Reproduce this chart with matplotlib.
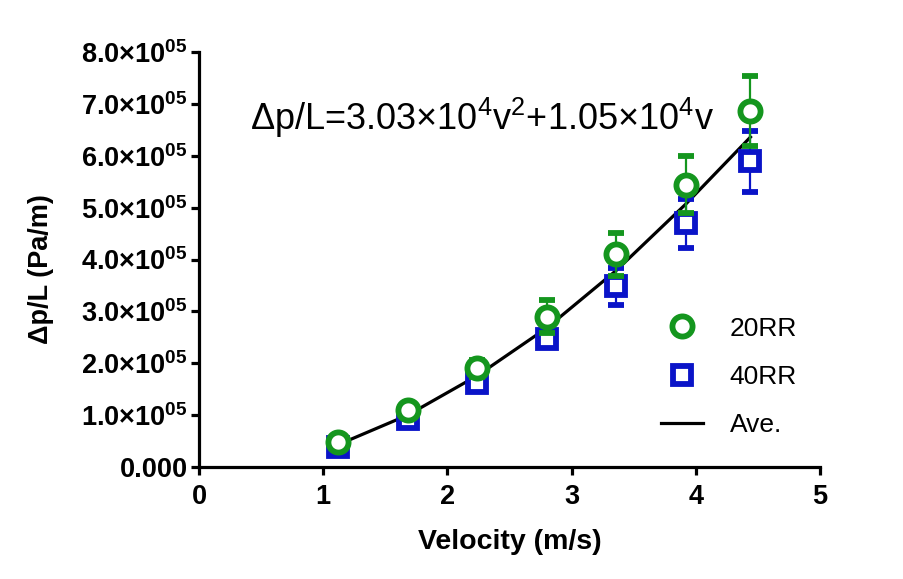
import matplotlib
matplotlib.use("Agg")
import matplotlib.pyplot as plt
from matplotlib.lines import Line2D
from matplotlib.ticker import FuncFormatter, MultipleLocator

plt.rcParams['font.family'] = ['Liberation Sans', 'DejaVu Sans']
plt.rcParams['mathtext.default'] = 'regular'

# Data (pressure drop in units of 1e5 Pa/m)
velocity = [1.12, 1.68, 2.24, 2.80, 3.36, 3.92, 4.44]
rr20 = [0.48, 1.09, 1.90, 2.90, 4.10, 5.44, 6.86]
rr20_err = [0.04, 0.06, 0.17, 0.31, 0.42, 0.55, 0.67]
rr40 = [0.38, 0.92, 1.62, 2.46, 3.48, 4.70, 5.89]
rr40_err = [0.03, 0.05, 0.08, 0.13, 0.35, 0.47, 0.59]
ave = [0.43, 1.00, 1.76, 2.68, 3.79, 5.07, 6.36]
scale = 1e5

green = '#14961e'
blue = '#0a14c8'

fig = plt.figure(figsize=(9.04, 5.79), dpi=100)
ax = fig.add_axes([0.2201, 0.1934, 0.6870, 0.7168])

ax.plot(velocity, [v * scale for v in ave], color='black', lw=2.3, zorder=2)
ax.errorbar(velocity, [v * scale for v in rr40], yerr=[e * scale for e in rr40_err],
            fmt='s', ms=13, mfc='white', mec=blue, mew=4.2, ecolor=blue,
            elinewidth=1.6, capsize=6, capthick=1.6, zorder=3)
ax.errorbar(velocity, [v * scale for v in rr20], yerr=[e * scale for e in rr20_err],
            fmt='o', ms=14.5, mfc='white', mec=green, mew=4.2, ecolor=green,
            elinewidth=1.6, capsize=6, capthick=1.6, zorder=4)

ax.set_xlim(0, 5)
ax.set_ylim(0, 8e5)
ax.xaxis.set_major_locator(MultipleLocator(1))
ax.yaxis.set_major_locator(MultipleLocator(1e5))

def yfmt(v, pos):
    if abs(v) < 1:
        return '0.000'
    return f'{v / 1e5:.1f}\u00d710$^{{05}}$'

ax.yaxis.set_major_formatter(FuncFormatter(yfmt))

for s in ['top', 'right']:
    ax.spines[s].set_visible(False)
for s in ['left', 'bottom']:
    ax.spines[s].set_linewidth(2.3)
ax.tick_params(axis='both', direction='out', length=6, width=2.3, labelsize=19.5)
for lab in ax.get_xticklabels() + ax.get_yticklabels():
    lab.set_fontweight('bold')
ax.tick_params(axis='y', pad=2)
ax.tick_params(axis='x', pad=6)

ax.set_xlabel('Velocity (m/s)', fontsize=20.5, fontweight='bold', labelpad=14)
ax.set_ylabel('\u0394p/L (Pa/m)', fontsize=19.5, fontweight='bold')
ax.yaxis.set_label_coords(-0.234, 0.477)

fig.text(250 / 904, 1 - 118 / 579, '\u0394p/L=3.03\u00d710$^{4}$v$^{2}$+1.05\u00d710$^{4}$v',
         fontsize=26, ha='left', va='center')

handles = [
    Line2D([], [], ls='none', marker='o', ms=14.5, mfc='white', mec=green, mew=4.2),
    Line2D([], [], ls='none', marker='s', ms=13, mfc='white', mec=blue, mew=4.2),
    Line2D([], [], color='black', lw=2.3),
]
labels = ['20RR', '40RR', 'Ave.']
leg = ax.legend(handles, labels,
                loc='upper left', bbox_to_anchor=(661 / 904, 0.453),
                bbox_transform=fig.transFigure, frameon=False, fontsize=19,
                handlelength=1.6, handletextpad=1.0, labelspacing=0.92,
                borderpad=0, borderaxespad=0)

fig.savefig('out.png', dpi=100, facecolor='white')
